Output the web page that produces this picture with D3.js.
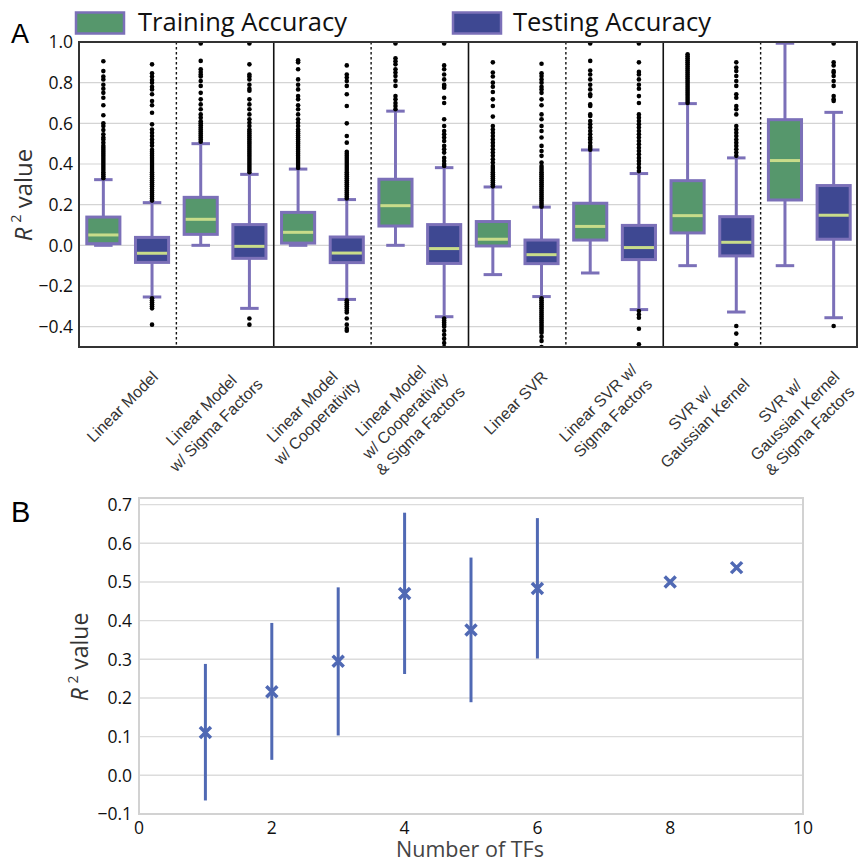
<!DOCTYPE html>
<html><head><meta charset="utf-8">
<script src="https://cdn.jsdelivr.net/npm/d3@7"></script>
<style>html,body{margin:0;padding:0;background:#fff;}svg{display:block;}</style>
</head><body>
<svg id="chart" width="858" height="863"></svg>
<script>
// ---------- DATA ----------
const models = [
  ["Linear Model"],
  ["Linear Model", "w/ Sigma Factors"],
  ["Linear Model", "w/ Cooperativity"],
  ["Linear Model", "w/ Cooperativity", "& Sigma Factors"],
  ["Linear SVR"],
  ["Linear SVR w/", "Sigma Factors"],
  ["SVR w/", "Gaussian Kernel"],
  ["SVR w/", "Gaussian Kernel", "& Sigma Factors"]
];
const seriesNames = ["Training Accuracy", "Testing Accuracy"];
// [whisker low, q1, median, q3, whisker high]
const trainStats = [
  [0.0, 0.008, 0.051, 0.139, 0.323],
  [0.0, 0.054, 0.128, 0.236, 0.50],
  [0.0, 0.011, 0.064, 0.162, 0.375],
  [0.0, 0.095, 0.195, 0.325, 0.66],
  [-0.144, -0.003, 0.03, 0.117, 0.287],
  [-0.136, 0.026, 0.093, 0.207, 0.469],
  [-0.1, 0.061, 0.146, 0.318, 0.697],
  [-0.1, 0.223, 0.417, 0.618, 0.994]
];
const testStats = [
  [-0.254, -0.084, -0.039, 0.039, 0.21],
  [-0.31, -0.064, -0.005, 0.102, 0.349],
  [-0.266, -0.085, -0.038, 0.041, 0.225],
  [-0.351, -0.089, -0.016, 0.102, 0.382],
  [-0.252, -0.09, -0.046, 0.026, 0.188],
  [-0.316, -0.07, -0.011, 0.098, 0.353],
  [-0.328, -0.052, 0.015, 0.141, 0.43],
  [-0.356, 0.03, 0.148, 0.294, 0.654]
];
const trainOutliers = [
  [0.905,0.857,0.83,0.816,0.79,0.77,0.75,0.726,0.689,0.64,0.6,0.587,0.567,0.546,0.53,0.52,0.505,0.49,0.48,0.47,0.46,0.45,0.44,0.43,0.42,0.41,0.40,0.39,0.38,0.37,0.36,0.35,0.34,0.33],
  [0.993,0.907,0.866,0.852,0.84,0.83,0.808,0.784,0.75,0.718,0.693,0.669,0.644,0.628,0.61,0.60,0.59,0.58,0.57,0.56,0.55,0.54,0.53,0.52,0.51],
  [0.91,0.9,0.866,0.816,0.79,0.767,0.734,0.718,0.689,0.669,0.644,0.62,0.603,0.587,0.57,0.56,0.55,0.54,0.53,0.52,0.51,0.50,0.49,0.48,0.47,0.46,0.45,0.44,0.43,0.42,0.41,0.40,0.39,0.38],
  [0.993,0.92,0.905,0.89,0.866,0.85,0.833,0.81,0.784,0.734,0.718,0.7,0.685,0.669],
  [0.9,0.85,0.83,0.8,0.78,0.754,0.718,0.685,0.633,0.587,0.57,0.554,0.538,0.521,0.505,0.489,0.472,0.456,0.44,0.423,0.407,0.39,0.38,0.37,0.36,0.35,0.34,0.33,0.32,0.31,0.30,0.29],
  [0.993,0.907,0.86,0.84,0.816,0.79,0.767,0.743,0.734,0.693,0.685,0.644,0.636,0.611,0.595,0.579,0.562,0.546,0.53,0.52,0.505,0.489,0.48,0.47],
  [0.94,0.93,0.92,0.91,0.9,0.89,0.88,0.87,0.86,0.85,0.84,0.83,0.82,0.81,0.8,0.79,0.78,0.77,0.76,0.75,0.74,0.73,0.72,0.71,0.70],
  []
];
const testOutliers = [
  [0.89,0.846,0.83,0.813,0.8,0.78,0.767,0.743,0.71,0.689,0.652,0.595,0.57,0.554,0.538,0.521,0.505,0.49,0.47,0.46,0.45,0.44,0.43,0.42,0.41,0.40,0.39,0.38,0.37,0.36,0.35,0.34,0.33,0.32,0.31,0.30,0.29,0.28,0.27,0.26,0.25,0.24,0.23,0.22,-0.26,-0.27,-0.28,-0.29,-0.30,-0.31,-0.39],
  [0.993,0.89,0.84,0.83,0.816,0.79,0.77,0.76,0.718,0.693,0.669,0.644,0.62,0.603,0.587,0.57,0.56,0.55,0.54,0.53,0.52,0.51,0.50,0.49,0.48,0.47,0.46,0.45,0.44,0.43,0.42,0.41,0.40,0.39,0.38,0.37,0.36,-0.36,-0.39],
  [0.885,0.84,0.825,0.808,0.784,0.743,0.685,0.6,0.538,0.505,0.46,0.45,0.44,0.43,0.42,0.41,0.40,0.39,0.38,0.37,0.36,0.35,0.34,0.33,0.32,0.31,0.30,0.29,0.28,0.27,0.26,0.25,0.24,0.23,-0.27,-0.28,-0.29,-0.30,-0.31,-0.32,-0.33,-0.36,-0.39,-0.41,-0.42],
  [0.993,0.885,0.866,0.84,0.816,0.79,0.784,0.775,0.726,0.7,0.62,0.587,0.562,0.546,0.53,0.513,0.489,0.472,0.456,0.43,0.415,0.4,0.39,-0.36,-0.37,-0.38,-0.39,-0.40,-0.42,-0.44,-0.46,-0.48,-0.5],
  [0.893,0.846,0.833,0.816,0.8,0.78,0.767,0.75,0.718,0.689,0.644,0.62,0.587,0.562,0.53,0.489,0.464,0.44,0.407,0.39,0.38,0.37,0.36,0.35,0.34,0.33,0.32,0.31,0.30,0.29,0.28,0.27,0.26,0.25,0.24,0.23,0.22,0.21,0.20,0.19,-0.26,-0.27,-0.28,-0.29,-0.30,-0.31,-0.32,-0.33,-0.34,-0.35,-0.36,-0.37,-0.38,-0.39,-0.40,-0.41,-0.42,-0.43,-0.45,-0.47,-0.5],
  [0.993,0.9,0.853,0.84,0.816,0.79,0.77,0.734,0.7,0.644,0.628,0.611,0.595,0.579,0.562,0.546,0.53,0.513,0.497,0.48,0.464,0.448,0.43,0.415,0.4,0.382,0.365,-0.323,-0.34,-0.356,-0.41,-0.487],
  [0.9,0.874,0.857,0.833,0.808,0.784,0.743,0.726,0.685,0.669,0.644,0.587,0.57,0.554,0.538,0.52,0.505,0.489,0.472,0.456,0.44,-0.397,-0.434,-0.487],
  [0.993,0.9,0.885,0.857,0.85,0.833,0.808,0.784,0.734,0.718,0.71,-0.397]
];
const yTicksA = [-0.4, -0.2, 0.0, 0.2, 0.4, 0.6, 0.8, 1.0];

// Panel B
const nTFs   = [1, 2, 3, 4, 5, 6, 8, 9];
const meanR2 = [0.111, 0.216, 0.295, 0.47, 0.376, 0.483, 0.50, 0.537];
const errLow = [-0.065, 0.04, 0.103, 0.262, 0.189, 0.302, null, null];
const errHigh= [0.288, 0.394, 0.486, 0.679, 0.563, 0.665, null, null];
const yTicksB = [-0.1, 0.0, 0.1, 0.2, 0.3, 0.4, 0.5, 0.6, 0.7];
const xTicksB = [0, 2, 4, 6, 8, 10];

// ---------- STYLE ----------
const green = "#56976c", navy = "#3e4892", purple = "#7b70b8", medC = "#c8dc8a";
const numFont = "'Open Sans', 'Noto Sans', sans-serif";
const labelFont = "'Liberation Sans', Arial, sans-serif";
const svg = d3.select("#chart");

// ---------- PANEL A ----------
const A = {l: 79, r: 857, t: 42, b: 347};
const keys = [];
models.forEach((m, i) => { keys.push("tr" + i); keys.push("te" + i); });
const xA = d3.scaleBand().domain(keys).range([A.l, 858]).paddingInner(0).paddingOuter(0);
const yA = d3.scaleLinear().domain([-0.5, 1.0]).range([A.b, A.t]);
const bw = xA.bandwidth() * 0.68;

svg.append("defs").append("clipPath").attr("id", "clipA")
  .append("rect").attr("x", A.l).attr("y", A.t - 3).attr("width", A.r - A.l).attr("height", A.b - A.t + 3);

// gridlines
svg.append("g").selectAll("line").data(yTicksA.filter(d => d < 1)).join("line")
  .attr("x1", A.l).attr("x2", A.r).attr("y1", d => yA(d)).attr("y2", d => yA(d))
  .attr("stroke", "#d4d4d4").attr("stroke-width", 1.2);

// separators between models: dotted / solid alternately
const sepG = svg.append("g");
for (let i = 1; i < models.length; i++) {
  const xs = xA("tr" + i);
  const ln = sepG.append("line").attr("x1", xs).attr("x2", xs).attr("y1", A.t).attr("y2", A.b)
    .attr("stroke", "#111");
  if (i % 2 === 1) ln.attr("stroke-width", 1.4).attr("stroke-dasharray", "2.5,2.5");
  else ln.attr("stroke-width", 1.6);
}

// boxes
const boxG = svg.append("g").attr("clip-path", "url(#clipA)");
function drawBox(key, st, outl, fill) {
  const cx = xA(key) + xA.bandwidth() / 2;
  const g = boxG.append("g");
  const capW = xA.bandwidth() * 0.38;
  g.append("line").attr("x1", cx).attr("x2", cx).attr("y1", yA(st[3])).attr("y2", yA(st[4]))
    .attr("stroke", purple).attr("stroke-width", 3);
  g.append("line").attr("x1", cx).attr("x2", cx).attr("y1", yA(st[1])).attr("y2", yA(st[0]))
    .attr("stroke", purple).attr("stroke-width", 3);
  [st[0], st[4]].forEach(v => g.append("line").attr("x1", cx - capW / 2).attr("x2", cx + capW / 2)
    .attr("y1", yA(v)).attr("y2", yA(v)).attr("stroke", purple).attr("stroke-width", 3));
  g.append("rect").attr("x", cx - bw / 2).attr("width", bw)
    .attr("y", yA(st[3])).attr("height", yA(st[1]) - yA(st[3]))
    .attr("fill", fill).attr("stroke", purple).attr("stroke-width", 3);
  g.append("line").attr("x1", cx - bw / 2 + 1.5).attr("x2", cx + bw / 2 - 1.5)
    .attr("y1", yA(st[2])).attr("y2", yA(st[2])).attr("stroke", medC).attr("stroke-width", 3);
  g.selectAll("circle").data(outl).join("circle")
    .attr("cx", cx).attr("cy", d => yA(d)).attr("r", 2.3).attr("fill", "#000");
}
models.forEach((m, i) => {
  drawBox("tr" + i, trainStats[i], trainOutliers[i], green);
  drawBox("te" + i, testStats[i], testOutliers[i], navy);
});

// frame
svg.append("rect").attr("x", A.l).attr("y", A.t).attr("width", A.r - A.l).attr("height", A.b - A.t)
  .attr("fill", "none").attr("stroke", "#333").attr("stroke-width", 2);

// y tick labels
svg.append("g").selectAll("text").data(yTicksA).join("text")
  .attr("x", 73).attr("y", d => yA(d)).attr("dy", "0.36em")
  .attr("text-anchor", "end").attr("font-family", numFont).attr("font-size", 17.5).attr("fill", "#111")
  .text(d => d3.format(".1f")(d));

// y axis title
function r2Title(x, y, size) {
  const t = svg.append("text").attr("transform", `translate(${x},${y}) rotate(-90)`)
    .attr("text-anchor", "middle").attr("font-family", numFont).attr("font-size", size).attr("fill", "#333");
  t.append("tspan").attr("font-style", "italic").text("R");
  t.append("tspan").attr("font-size", size * 0.6).attr("dx", size * 0.2).attr("dy", -size * 0.45).text("2");
  t.append("tspan").attr("dy", size * 0.45).text(" value");
}
r2Title(32, 195, 24);

// x labels: rotated 45° (explicit matrix), right-anchored block, lines centered
const lh = 21;
const c45 = Math.SQRT1_2;
models.forEach((lines, i) => {
  const ax = xA("te" + i) + xA.bandwidth() / 2 + 3, ay = 374;
  const items = lines.map((s, j) => {
    const t = svg.append("text").attr("font-family", labelFont)
      .attr("font-size", 16).attr("fill", "#333").attr("text-anchor", "end").text(s);
    return {t, w: t.node().getComputedTextLength(), j};
  });
  const W = d3.max(items, d => d.w);
  items.forEach(d => {
    const lx = -(W - d.w) / 2;
    const ly = (d.j - (lines.length - 1) / 2) * lh + 5.5;
    // local (lx, ly) rotated by -45deg: (c*lx + c*ly, -c*lx + c*ly)
    const ex = ax + c45 * lx + c45 * ly;
    const ey = ay - c45 * lx + c45 * ly;
    d.t.attr("transform", `matrix(${c45},${-c45},${c45},${c45},${ex},${ey})`);
  });
});

// legend
const legend = [{x: 76, tx: 138, fill: green}, {x: 453, tx: 513, fill: navy}];
legend.forEach((L, i) => {
  svg.append("rect").attr("x", L.x).attr("y", 12.5).attr("width", 48).attr("height", 21)
    .attr("fill", L.fill).attr("stroke", purple).attr("stroke-width", 2.5);
  svg.append("text").attr("x", L.tx).attr("y", 31).attr("font-family", numFont).attr("font-size", 25.5)
    .attr("fill", "#111").text(seriesNames[i]);
});

// panel letters
svg.append("text").attr("x", 11).attr("y", 43).attr("font-family", labelFont)
  .attr("font-size", 27).attr("fill", "#000").text("A");
svg.append("text").attr("x", 11).attr("y", 522).attr("font-family", labelFont)
  .attr("font-size", 29).attr("fill", "#000").text("B");

// ---------- PANEL B ----------
const B = {l: 139, r: 803, t: 498, b: 814};
const xB = d3.scaleLinear().domain([0, 10]).range([B.l, B.r]);
const yB = d3.scaleLinear().domain([-0.1, 0.717]).range([B.b, B.t]);
const blue = "#5069b4";

svg.append("g").selectAll("line").data(yTicksB).join("line")
  .attr("x1", B.l).attr("x2", B.r).attr("y1", d => yB(d)).attr("y2", d => yB(d))
  .attr("stroke", "#dcdcdc").attr("stroke-width", 1.4);
svg.append("rect").attr("x", B.l).attr("y", B.t).attr("width", B.r - B.l).attr("height", B.b - B.t)
  .attr("fill", "none").attr("stroke", "#d2d2d2").attr("stroke-width", 2);

svg.append("g").selectAll("text").data(yTicksB).join("text")
  .attr("x", 132).attr("y", d => yB(d)).attr("dy", "0.36em").attr("text-anchor", "end")
  .attr("font-family", numFont).attr("font-size", 17.5).attr("fill", "#111")
  .text(d => d3.format(".1f")(d));
svg.append("g").selectAll("text").data(xTicksB).join("text")
  .attr("x", d => xB(d)).attr("y", 834).attr("text-anchor", "middle")
  .attr("font-family", numFont).attr("font-size", 17.5).attr("fill", "#111").text(d => d);
svg.append("text").attr("x", 470).attr("y", 857).attr("text-anchor", "middle")
  .attr("font-family", numFont).attr("font-size", 21.5).attr("fill", "#444").text("Number of TFs");
r2Title(88, 657, 23);

const pts = nTFs.map((n, i) => ({n, m: meanR2[i], lo: errLow[i], hi: errHigh[i]}));
svg.append("g").selectAll("line").data(pts.filter(d => d.lo !== null)).join("line")
  .attr("x1", d => xB(d.n)).attr("x2", d => xB(d.n)).attr("y1", d => yB(d.lo)).attr("y2", d => yB(d.hi))
  .attr("stroke", blue).attr("stroke-width", 3);
const ms = 5.5;
svg.append("g").selectAll("path").data(pts).join("path")
  .attr("d", d => {
    const x = xB(d.n), y = yB(d.m);
    return `M${x - ms},${y - ms}L${x + ms},${y + ms}M${x - ms},${y + ms}L${x + ms},${y - ms}`;
  })
  .attr("stroke", blue).attr("stroke-width", 3.5).attr("fill", "none");
</script>
</body></html>
